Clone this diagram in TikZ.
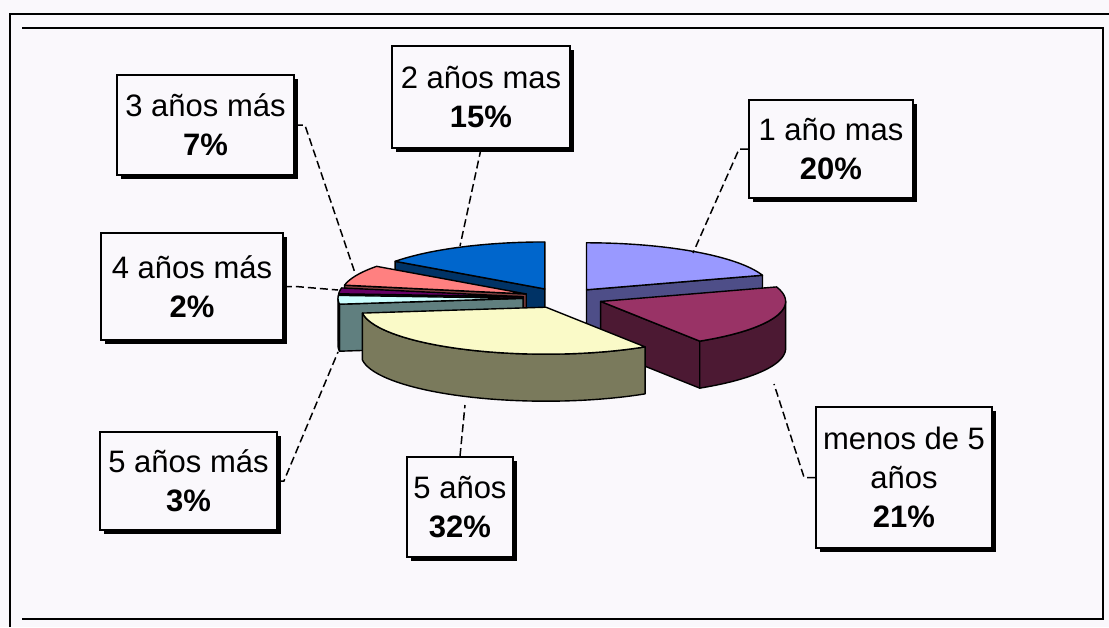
\documentclass[tikz,border=0pt]{standalone}
\usepackage{fontspec}
\setmainfont{Liberation Sans}
\usetikzlibrary{shadows}
\definecolor{bg}{RGB}{250,248,252}
\definecolor{cA}{HTML}{9999FF}\definecolor{sA}{HTML}{4E4E88}
\definecolor{cB}{HTML}{993366}\definecolor{sB}{HTML}{4C1933}
\definecolor{cC}{HTML}{FAFAC8}\definecolor{sC}{HTML}{7A7A5C}
\definecolor{cD}{HTML}{CCFFFF}\definecolor{sD}{HTML}{607F7F}
\definecolor{cE}{HTML}{660066}\definecolor{sE}{HTML}{2A002A}
\definecolor{cF}{HTML}{FF8080}\definecolor{sF}{HTML}{7F4040}
\definecolor{cG}{HTML}{0066CC}\definecolor{sG}{HTML}{003366}
\def\pcX{563}\def\pcY{298}\def\prx{185}\def\pry{47}\def\pdep{47}\def\pex{40}
\newcommand\PieSlice[4]{%
  \pgfmathsetmacro\pmid{(#1+#2)/2}%
  \pgfmathsetmacro\pcx{\pcX+\pex*cos(\pmid)}%
  \pgfmathsetmacro\pcy{\pcY-\pex*sin(\pmid)*\pry/\prx}%
  \pgfmathtruncatemacro\pva{cos(#1)>0.01}%
  \ifnum\pva=1
    \filldraw[pe,fill=#4] (\pcx,\pcy) -- ({\pcx+\prx*cos(#1)},{\pcy-\pry*sin(#1)})
      -- ({\pcx+\prx*cos(#1)},{\pcy-\pry*sin(#1)+\pdep}) -- (\pcx,{\pcy+\pdep}) -- cycle;
  \fi
  \pgfmathtruncatemacro\pvb{cos(#2)<-0.01}%
  \ifnum\pvb=1
    \filldraw[pe,fill=#4] (\pcx,\pcy) -- ({\pcx+\prx*cos(#2)},{\pcy-\pry*sin(#2)})
      -- ({\pcx+\prx*cos(#2)},{\pcy-\pry*sin(#2)+\pdep}) -- (\pcx,{\pcy+\pdep}) -- cycle;
  \fi
  \pgfmathsetmacro\pwa{max(#1,180)}%
  \pgfmathsetmacro\pwb{min(#2,360)}%
  \pgfmathtruncatemacro\pvw{\pwb>\pwa+0.01}%
  \ifnum\pvw=1
    \filldraw[pe,fill=#4] plot[domain=\pwa:\pwb,samples=40,variable=\q] ({\pcx+\prx*cos(\q)},{\pcy-\pry*sin(\q)})
      -- plot[domain=\pwb:\pwa,samples=40,variable=\q] ({\pcx+\prx*cos(\q)},{\pcy-\pry*sin(\q)+\pdep}) -- cycle;
  \fi
  \filldraw[pe,fill=#3] (\pcx,\pcy) -- plot[domain=#1:#2,samples=40,variable=\q] ({\pcx+\prx*cos(\q)},{\pcy-\pry*sin(\q)}) -- cycle;
}
\tikzset{
  pe/.style={draw=black,line width=1.4pt,line join=round},
  lbl/.style={draw=black,line width=1.8pt,fill=bg,align=center,inner sep=0pt,
    font=\fontsize{31}{39}\selectfont,
    drop shadow={shadow xshift=4pt,shadow yshift=-4pt,fill=black,opacity=1}},
  leader/.style={draw=black,line width=1.5pt,dash pattern=on 8pt off 4pt}
}
\begin{document}
\begin{tikzpicture}[x=1pt,y=-1pt]
\useasboundingbox (0,0) rectangle (1109,627);
\fill[bg] (0,0) rectangle (1109,627);
% frames
\draw[line width=2pt] (10,627) -- (10,14) -- (1109,14);
\draw[line width=2.5pt] (22,28) -- (1103,28) -- (1103,619) -- (22,619);
% pie (back to front)
\PieSlice{90}{144}{cG}{sG}
\PieSlice{18}{90}{cA}{sA}
\PieSlice{144}{169.2}{cF}{sF}
\PieSlice{169.2}{176.4}{cE}{sE}
\PieSlice{176.4}{187.2}{cD}{sD}
\PieSlice{302.4}{378}{cB}{sB}
\PieSlice{187.2}{302.4}{cC}{sC}
% leader end points
\coordinate (c3) at (355,273);
\coordinate (c2) at (460,246);
\coordinate (c1) at (693,253);
\coordinate (cm) at (774,384);
\coordinate (c4) at (338,290);
\coordinate (c5m) at (338,352);
\coordinate (c5) at (465,405);
% labels
\node[lbl,minimum width=177pt,minimum height=100pt] (b3) at (205.5,125) {3 años más\\\textbf{7\%}};
\node[lbl,minimum width=178pt,minimum height=102pt] (b2) at (481,97) {2 años mas\\\textbf{15\%}};
\node[lbl,minimum width=164pt,minimum height=98pt] (b1) at (831,149) {1 año mas\\\textbf{20\%}};
\node[lbl,minimum width=176pt,minimum height=141pt] (bm) at (904,477.5) {menos de 5\\años\\\textbf{21\%}};
\node[lbl,minimum width=182pt,minimum height=107pt] (b4) at (192,286.5) {4 años más\\\textbf{2\%}};
\node[lbl,minimum width=177pt,minimum height=98pt] (b5m) at (188.5,481) {5 años más\\\textbf{3\%}};
\node[lbl,minimum width=106pt,minimum height=100pt] (b5) at (460,507) {5 años\\\textbf{32\%}};
% leaders
\draw[leader] (b3.east) -- ++(10,0) -- (c3);
\draw[leader] (b2.south) -- (c2);
\draw[leader] (b1.west) -- ++(-9,0) -- (c1);
\draw[leader] (bm.west) -- ++(-11,0) -- (cm);
\draw[leader] (b4.east) -- ++(12,0) -- (c4);
\draw[leader] (b5m.east) -- ++(6,0) -- (c5m);
\draw[leader] (b5.north) -- (c5);
\end{tikzpicture}
\end{document}
